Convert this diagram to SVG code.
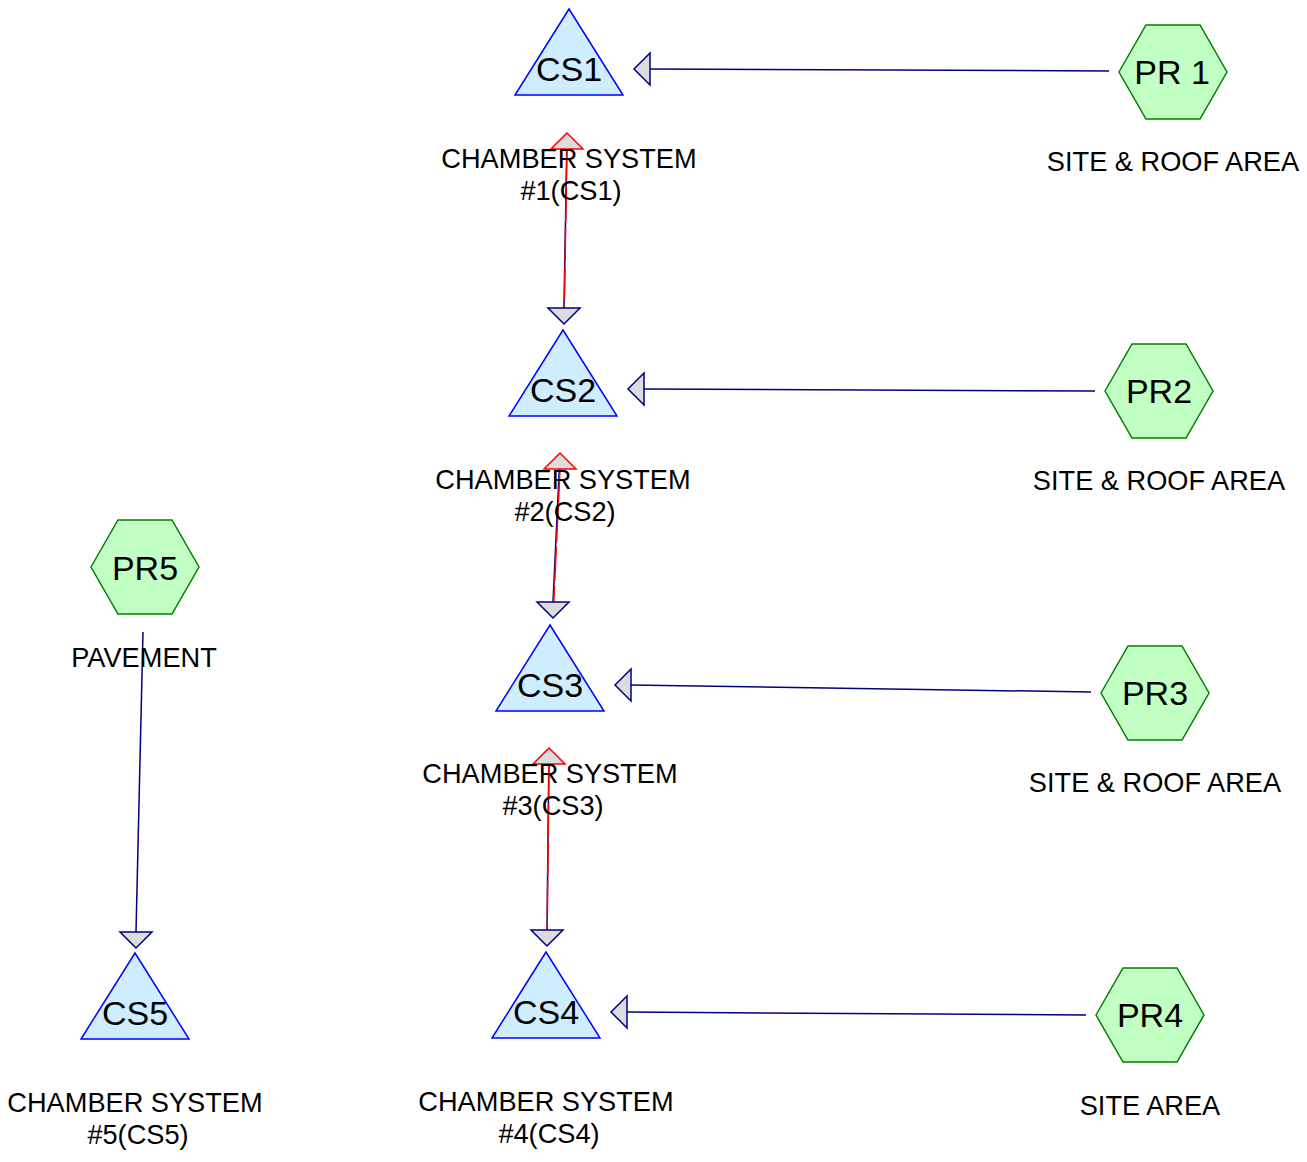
<svg xmlns="http://www.w3.org/2000/svg" width="1307" height="1162" viewBox="0 0 1307 1162">
<style>
.bg{fill:#ffffff}
.tri{fill:#ceeeff;stroke:#0000ff;stroke-width:1.5}
.hex{fill:#c2ffc2;stroke:#008000;stroke-width:1.5}
.nt{font-family:"Liberation Sans",Arial,sans-serif;font-size:34px;fill:#000;text-anchor:middle}
.lb{font-family:"Liberation Sans",Arial,sans-serif;font-size:27.2px;fill:#000;text-anchor:middle}
.ln{stroke:#000080;stroke-width:1.5;fill:none}
.rl{stroke:#ff0000;stroke-width:1.5;fill:none;stroke-dasharray:34 5}
.ah{fill:#dcdcdc;stroke:#000080;stroke-width:1.5;stroke-linejoin:miter}
.rh{fill:#dcdcdc;stroke:#ff0000;stroke-width:1.5;stroke-linejoin:miter}
</style>
<defs>
<polygon id="triShape" class="tri" points="0,0 54,86 -54,86"/>
<polygon id="hexShape" class="hex" points="-54,0 -27,-47 27,-47 54,0 27,47 -27,47"/>
</defs>
<rect class="bg" x="0" y="0" width="1307" height="1162"/>

<g id="connectors">
  <line class="ln" x1="1109" y1="71" x2="650" y2="69"/>
  <polygon class="ah" points="634,69 650,53 650,85"/>
  <line class="ln" x1="1095" y1="391" x2="644" y2="389"/>
  <polygon class="ah" points="628,389 644,373 644,405"/>
  <line class="ln" x1="1091" y1="692" x2="631" y2="685"/>
  <polygon class="ah" points="615,685 631,669 631,701"/>
  <line class="ln" x1="1086" y1="1015" x2="627" y2="1012"/>
  <polygon class="ah" points="611,1012 627,996 627,1028"/>
  <line class="ln" x1="143" y1="632" x2="136" y2="932"/>
  <polygon class="ah" points="136,948 120,932 152,932"/>
  <line class="ln" x1="567" y1="134" x2="564" y2="308"/>
  <line class="rl" x1="567" y1="149" x2="564" y2="324"/>
  <polygon class="ah" points="564,324 548,308 580,308"/>
  <polygon class="rh" points="567,133 551,149 583,149"/>
  <line class="ln" x1="560" y1="454" x2="553" y2="602"/>
  <line class="rl" x1="560" y1="469" x2="553" y2="618"/>
  <polygon class="ah" points="553,618 537,602 569,602"/>
  <polygon class="rh" points="560,453 544,469 576,469"/>
  <line class="ln" x1="549" y1="749" x2="547" y2="930"/>
  <line class="rl" x1="549" y1="764" x2="547" y2="946"/>
  <polygon class="ah" points="547,946 531,930 563,930"/>
  <polygon class="rh" points="549,748 533,764 565,764"/>
</g>

<g id="CS1">
  <use href="#triShape" x="569" y="9"/>
  <text class="nt" x="569" y="81">CS1</text>
  <text class="lb" x="569" y="168">CHAMBER SYSTEM</text>
  <text class="lb" x="571" y="200">#1(CS1)</text>
</g>
<g id="CS2">
  <use href="#triShape" x="563" y="330"/>
  <text class="nt" x="563" y="402">CS2</text>
  <text class="lb" x="563" y="489">CHAMBER SYSTEM</text>
  <text class="lb" x="565" y="521">#2(CS2)</text>
</g>
<g id="CS3">
  <use href="#triShape" x="550" y="625"/>
  <text class="nt" x="550" y="697">CS3</text>
  <text class="lb" x="550" y="783">CHAMBER SYSTEM</text>
  <text class="lb" x="553" y="815">#3(CS3)</text>
</g>
<g id="CS4">
  <use href="#triShape" x="546" y="952"/>
  <text class="nt" x="546" y="1024">CS4</text>
  <text class="lb" x="546" y="1111">CHAMBER SYSTEM</text>
  <text class="lb" x="549" y="1143">#4(CS4)</text>
</g>
<g id="CS5">
  <use href="#triShape" x="135" y="953"/>
  <text class="nt" x="135" y="1025">CS5</text>
  <text class="lb" x="135" y="1112">CHAMBER SYSTEM</text>
  <text class="lb" x="138" y="1144">#5(CS5)</text>
</g>

<g id="PR1">
  <use href="#hexShape" x="1173" y="72"/>
  <text class="nt" x="1172" y="84">PR 1</text>
  <text class="lb" x="1173" y="171">SITE &amp; ROOF AREA</text>
</g>
<g id="PR2">
  <use href="#hexShape" x="1159" y="391"/>
  <text class="nt" x="1159" y="403">PR2</text>
  <text class="lb" x="1159" y="490">SITE &amp; ROOF AREA</text>
</g>
<g id="PR3">
  <use href="#hexShape" x="1155" y="693"/>
  <text class="nt" x="1155" y="705">PR3</text>
  <text class="lb" x="1155" y="792">SITE &amp; ROOF AREA</text>
</g>
<g id="PR4">
  <use href="#hexShape" x="1150" y="1015"/>
  <text class="nt" x="1150" y="1027">PR4</text>
  <text class="lb" x="1150" y="1115">SITE AREA</text>
</g>
<g id="PR5">
  <use href="#hexShape" x="145" y="567"/>
  <text class="nt" x="145" y="580">PR5</text>
  <text class="lb" x="144" y="667">PAVEMENT</text>
</g>
</svg>
